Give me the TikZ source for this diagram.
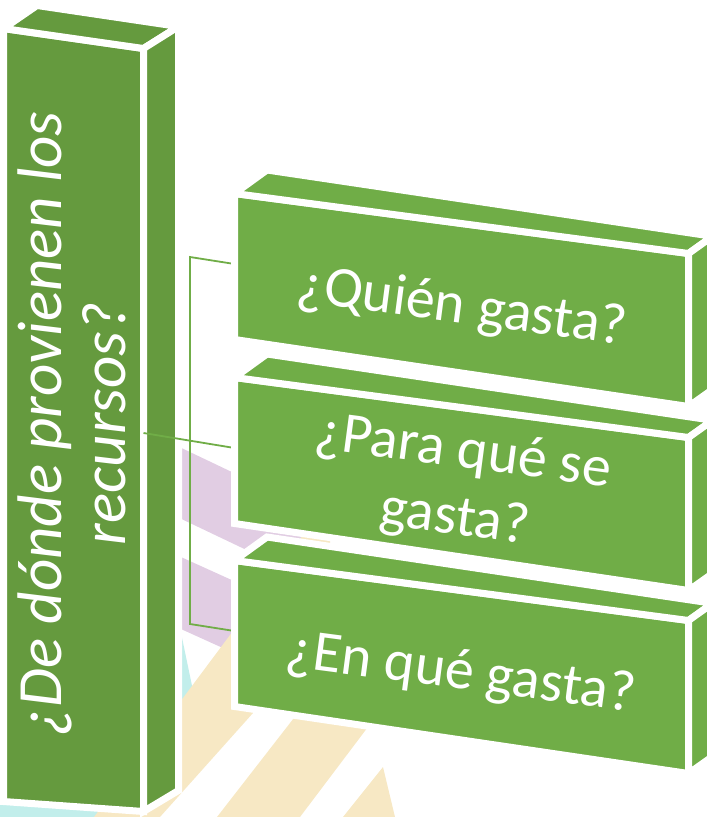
\documentclass[tikz,border=0pt]{standalone}
\usepackage{fontspec}
\setmainfont{Carlito}
\usetikzlibrary{positioning}
\definecolor{colgreen}{RGB}{101,154,62}
\definecolor{boxgreen}{RGB}{112,173,71}
\definecolor{bgcyan}{RGB}{194,238,235}
\definecolor{bgpurple}{RGB}{225,205,227}
\definecolor{bgyellow}{RGB}{247,232,196}

\begin{document}
\begin{tikzpicture}[x=1pt,y=-1pt,
    boxface/.style={fill=#1,draw=white,line width=7pt},
    boxtext/.style={text=white,font=\fontsize{58}{67}\selectfont,align=center},
    linkline/.style={draw=boxgreen,line width=1.8pt}]
    \useasboundingbox (0,0) rectangle (707,817);
    \clip (0,0) rectangle (707,817);

    % background
    \fill[bgcyan] (0,290) -- (178,610) -- (180,628) -- (196,705) -- (140,817) -- (0,817) -- cycle;
    \fill[bgpurple] (150,433) -- (320,514) -- (320,585) -- (150,504) -- cycle;
    \fill[bgpurple] (150,543) -- (320,620) -- (320,692) -- (150,615) -- cycle;
    \fill[bgyellow] (303,535) -- (330,535) -- (330,600) -- (253,713) -- (160,817) -- (94,817) -- (180,702) -- (230,635) -- cycle;
    \fill[bgyellow] (304,705) -- (377,715) -- (300,817) -- (217,817) -- cycle;
    \fill[bgyellow] (383,767) -- (395,817) -- (343,817) -- cycle;

    % column
    \coordinate (col-tl) at (3.5,28.5);
    \coordinate (col-tr) at (143.5,48.5);
    \coordinate (col-br) at (143.5,811.5);
    \coordinate (col-bl) at (3.5,801.5);
    \coordinate (col-backl) at (37,5.5);
    \coordinate (col-backr) at (178.5,26.5);
    \coordinate (col-backb) at (178.5,790.5);
    \coordinate (col-out) at (143.5,433);
    \draw[boxface=colgreen] (col-tl) -- (col-tr) -- (col-br) -- (col-bl) -- cycle;
    \draw[boxface=colgreen] (col-tl) -- (col-backl) -- (col-backr) -- (col-tr) -- cycle;
    \draw[boxface=colgreen] (col-tr) -- (col-backr) -- (col-backb) -- (col-br) -- cycle;

    % connectors
    \foreach \nm/\dy in {q/0,p/184,e/367}
      \coordinate (\nm-in) at (234.5,264+\dy);
    \coordinate (brk-top) at (190,257);
    \coordinate (brk-bot) at (190,624);
    \draw[linkline] (q-in) -- (brk-top) -- (brk-bot) -- (e-in);
    \draw[linkline] (col-out) -- (p-in);

    % boxes
    \foreach \nm/\dy in {q/0,p/184,e/367}{
      \coordinate (\nm-tl) at (234.5,193.5+\dy);
      \coordinate (\nm-tr) at (688.5,253.5+\dy);
      \coordinate (\nm-br) at (688.5,406.5+\dy);
      \coordinate (\nm-bl) at (234.5,339.5+\dy);
      \coordinate (\nm-backl) at (267,170+\dy);
      \coordinate (\nm-backr) at (712.6,236.3+\dy);
      \coordinate (\nm-backb) at (712.5,389.5+\dy);
      \draw[boxface=boxgreen] (\nm-tl) -- (\nm-tr) -- (\nm-br) -- (\nm-bl) -- cycle;
      \draw[boxface=boxgreen] (\nm-tl) -- (\nm-backl) -- (\nm-backr) -- (\nm-tr) -- cycle;
      \draw[boxface=boxgreen] (\nm-tr) -- (\nm-backr) -- (\nm-backb) -- (\nm-br) -- cycle;
    }

    % texts
    \node[boxtext,font=\itshape\fontsize{63}{64}\selectfont,rotate=90] (origen) at (72,424) {¿De dónde provienen los\\recursos?};
    \node[boxtext,rotate=-7.5,anchor=base] (quien) at (460,323) {¿Quién gasta?};
    \node[boxtext,rotate=-7.5] (para) at (459,486) {¿Para qué se\\gasta?};
    \node[boxtext,rotate=-7.5,anchor=base] (enque) at (459,689) {¿En qué gasta?};
\end{tikzpicture}
\end{document}
